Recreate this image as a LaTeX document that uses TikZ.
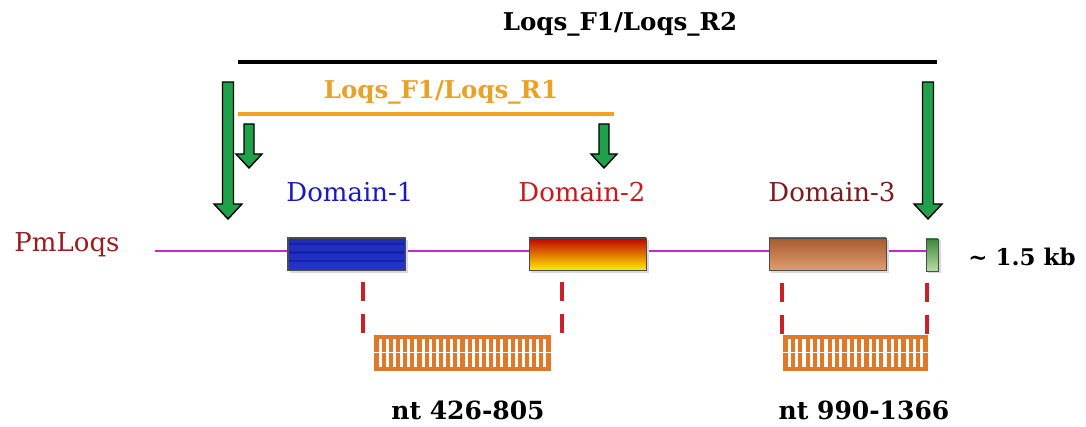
\documentclass[tikz,border=0pt]{standalone}
\usepackage{fontspec}
\setmainfont{DejaVu Serif}
\begin{document}
\begin{tikzpicture}[x=1pt,y=-1pt,
  lbl/.style={font=\fontsize{26}{28}\selectfont, inner sep=0pt},
  blbl/.style={font=\bfseries\fontsize{24.5}{28}\selectfont, inner sep=0pt},
  garrow/.style={fill=arrowgreen, draw=black, line width=1.4pt, line join=miter},
  dom/.style={draw=gray!60!black, line width=0.7pt, minimum height=32pt, inner sep=0pt},
  rdash/.style={draw=dashred, line width=3.2pt, dash pattern=on 19pt off 13pt},
  rail/.style={fill=ladorange},
  rung/.style={draw=ladorange, line width=4.2pt}
]
\definecolor{arrowgreen}{HTML}{1FA04A}
\definecolor{dashred}{HTML}{CC2028}
\definecolor{ladorange}{HTML}{E0782A}
\definecolor{primorange}{HTML}{F2A21C}
\definecolor{labelorange}{HTML}{E9A128}
\definecolor{genemag}{HTML}{C02EC0}
\definecolor{darkred}{HTML}{9B1B1F}
\definecolor{d2red}{HTML}{C81A1E}
\definecolor{d3red}{HTML}{7A1C1C}
\definecolor{d1blue}{HTML}{1A1AC0}
\definecolor{boxblue}{HTML}{2A3CF0}
\definecolor{stripeblue}{HTML}{0A18A8}
\definecolor{browntop}{HTML}{A85A2E}
\definecolor{brownmid}{HTML}{C8773F}
\definecolor{brownbot}{HTML}{DE9E70}
\definecolor{greentop}{HTML}{3C8A3C}
\definecolor{greenbot}{HTML}{B8DCA0}
\useasboundingbox (0,0) rectangle (1086,427);

% primer pairs
\node[blbl] (r2lab) at (620,24) {Loqs\_F1/Loqs\_R2};
\coordinate (r2a) at (238,62);
\coordinate (r2b) at (937,62);
\draw[line width=4pt] (r2a) -- (r2b);

\node[blbl, text=labelorange] (r1lab) at (441,92) {Loqs\_F1/Loqs\_R1};
\coordinate (r1a) at (238,114);
\coordinate (r1b) at (614,114);
\draw[draw=primorange, line width=3.5pt] (r1a) -- (r1b);

% green arrows (big)
\foreach \cx in {228, 928}{
  \draw[garrow] (\cx-5.5,82) -- (\cx+5.5,82) -- (\cx+5.5,204) -- (\cx+14,204) -- (\cx,219) -- (\cx-14,204) -- (\cx-5.5,204) -- cycle;
}
% green arrows (small)
\foreach \cx in {249, 604}{
  \draw[garrow] (\cx-5,124) -- (\cx+5,124) -- (\cx+5,154) -- (\cx+13,154) -- (\cx,168) -- (\cx-13,154) -- (\cx-5,154) -- cycle;
}

% domain labels
\node[lbl, text=d1blue] (d1lab) at (350,192) {Domain-1};
\node[lbl, text=d2red] (d2lab) at (582,192) {Domain-2};
\node[lbl, text=d3red] (d3lab) at (832,192) {Domain-3};
\node[lbl, text=darkred] (pm) at (67,245) {PmLoqs};
\node[blbl, font=\bfseries\fontsize{23}{26}\selectfont] (kb) at (1022,257) {\textasciitilde\ 1.5 kb};

% gene line
\coordinate (gl) at (155,251);
\coordinate (gr) at (930,251);
\draw[genemag, line width=2pt] (gl) -- (gr);

% shadows
\foreach \xa/\xb in {288/405, 529/646, 769/886, 926/938}{
  \fill[gray!30] (\xa+2,240) rectangle (\xb+3,273.5);
}
% domain boxes
\node[dom, minimum width=117pt, top color=boxblue!75!black, middle color=boxblue, bottom color=boxblue!85!black] (b1) at (346.5,254) {};
\foreach \yy/\w in {244/1.3, 252.5/1.6, 261/1.3}{
  \fill[stripeblue, opacity=0.6] (289,\yy-\w) rectangle (404,\yy+\w);
}
\draw[gray!60!black, line width=0.7pt] (b1.north west) rectangle (b1.south east);
\node[dom, minimum width=117pt, top color=red!75!black, middle color=red!95!orange, bottom color=yellow!85!orange] (b2) at (587.5,254) {};
\node[dom, minimum width=117pt, top color=browntop, middle color=brownmid, bottom color=brownbot] (b3) at (827.5,254) {};
\node[dom, minimum width=12pt, top color=greentop, bottom color=greenbot] (b4) at (932,255) {};

% ladders
\foreach \xa/\xb/\nm in {374/551/l1, 783/928/l2}{
  \fill[rail] (\xa,335) rectangle (\xb,338.5);
  \fill[rail] (\xa,367) rectangle (\xb,370.5);
  \pgfmathsetmacro{\nr}{round((\xb-\xa-5)/7.3)}
  \foreach \i in {0,...,\nr}{
    \pgfmathsetmacro{\rx}{\xa+2.5+\i*(\xb-\xa-5)/\nr}
    \draw[rung] (\rx,337) -- (\rx,368);
  }
  \draw[white, line width=1.2pt] (\xa,352.5) -- (\xb,352.5);
  \coordinate (\nm) at (\xa,335);
}
\node[blbl, font=\bfseries\fontsize{25}{28}\selectfont] (nt1) at (468,410) {nt 426-805};
\node[blbl, font=\bfseries\fontsize{25}{28}\selectfont] (nt2) at (864,410) {nt 990-1366};

% dashed connectors
\draw[rdash] (363,282) -- (363,335);
\draw[rdash] (562,282) -- (562,335);
\draw[rdash] (782,283) -- (782,335);
\draw[rdash] (927,283) -- (927,335);
\end{tikzpicture}
\end{document}
